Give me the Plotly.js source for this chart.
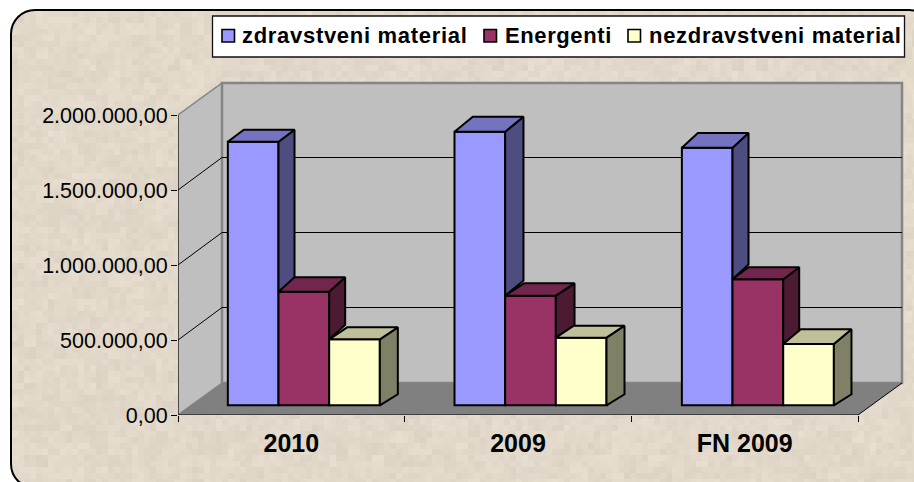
<!DOCTYPE html>
<html>
<head>
<meta charset="utf-8">
<script src="https://cdn.plot.ly/plotly-3.0.1.min.js"></script>
<style>
html,body{margin:0;padding:0;width:914px;height:482px;overflow:hidden;background:#fff}
#panel{position:absolute;left:10px;top:9px;width:920px;height:476px;border:2px solid #000;border-radius:25px;background-color:#E2D9CA}
#chart{position:absolute;left:0;top:0;width:914px;height:482px}
</style>
</head>
<body>
<div id="panel"></div>
<div id="chart"></div>
<script>
// ---- data ----
const categories = ["2010", "2009", "FN 2009"];
const seriesNames = ["zdravstveni material", "Energenti", "nezdravstveni material"];
const zdravstveni = [1757000, 1824000, 1717000];
const energenti = [757000, 731000, 840000];
const nezdravstveni = [440000, 451000, 409000];
const yTicks = [0, 500000, 1000000, 1500000, 2000000];

// ---- styles ----
const frontColors = ["#9999FF", "#993366", "#FFFFCC"];
const topColors = ["#7373BF", "#73264D", "#BFBF99"];
const sideColors = ["#4D4D80", "#4D1A33", "#808066"];
const values = [zdravstveni, energenti, nezdravstveni];

// ---- paper texture (fixed pattern, decorative only) ----
(function () {
  const c = document.createElement("canvas");
  c.width = 924; c.height = 480;
  const g = c.getContext("2d");
  const h = (a, b) => { const s = Math.sin(a * 127.1 + b * 311.7) * 43758.5453; return s - Math.floor(s); };
  for (let y = 0; y < 80; y++) for (let x = 0; x < 154; x++) {
    const n = (h(x, y) - 0.5) * 8 + (h(x >> 1, y >> 1) - 0.5) * 6;
    g.fillStyle = `rgb(${226 + n | 0},${217 + n | 0},${202 + n | 0})`;
    g.fillRect(x * 6, y * 6, 6, 6);
  }
  document.getElementById("panel").style.backgroundImage = `url(${c.toDataURL()})`;
})();

// ---- geometry of the pseudo 3D box (screen pixels) ----
const W = 914, H = 482;
const frontLeft = 178, frontRight = 858, frontBottom = 415, frontTop = 115;
const wallDX = 44, wallDY = 32, pad = 3;
const pxPerCat = (frontRight - frontLeft) / categories.length;
const pxPerVal = (frontBottom - frontTop) / 2000000;
const plotL = frontLeft, plotR = frontRight + wallDX + pad, plotB = frontBottom, plotT = frontBottom - 300 - wallDY - pad;
const xMin = -0.5, xMax = xMin + (plotR - plotL) / pxPerCat;
const yMax = (plotB - plotT) / pxPerVal;
const ddx = px => px / pxPerCat, ddy = px => px / pxPerVal;
const xLast = categories.length - 0.5;
const paperX = px => (px - plotL) / (plotR - plotL);
const paperY = py => (plotB - py) / (plotB - plotT);

// bar placement (px offsets as drawn in the original's oblique view)
const groupShiftPx = [12.5, 12.5, 13.2], groupWidth = 152 / pxPerCat;
const barBase = ddy(9.7), barW = groupWidth / 3;
const depthXPx = [[16, 18.3, 16], [16, 18.7, 16], [18, 18, 17.6]];
const depthYPx = [[12, 15, 14.7], [14.4, 12.3, 12], [12, 12, 14.7]];
const floorDepthY = ddy(11);

const polyPath = pts => "M" + pts.map(p => p[0] + "," + p[1]).join("L") + "Z";
const wallGray = "#BFBFBF", wallEdge = "#858585";
const shapes = [];
// side wall
shapes.push({type: "path", layer: "below", xref: "x", yref: "y",
  path: polyPath([[xMin, 0], [xMin, 2000000], [xMin + ddx(wallDX), 2000000 + ddy(wallDY)], [xMin + ddx(wallDX), ddy(wallDY)]]),
  fillcolor: wallGray, line: {color: wallEdge, width: 1.5}});
// back wall
shapes.push({type: "path", layer: "below", xref: "x", yref: "y",
  path: polyPath([[xMin + ddx(wallDX), ddy(wallDY)], [xMin + ddx(wallDX), 2000000 + ddy(wallDY)], [xLast + ddx(wallDX), 2000000 + ddy(wallDY)], [xLast + ddx(wallDX), ddy(wallDY)]]),
  fillcolor: wallGray, line: {color: wallEdge, width: 2.5}});
// floor
shapes.push({type: "path", layer: "below", xref: "x", yref: "y",
  path: polyPath([[xMin, 0], [xLast, 0], [xLast + ddx(wallDX), ddy(wallDY)], [xMin + ddx(wallDX), ddy(wallDY)]]),
  fillcolor: "#808080", line: {width: 0}});
// floor right edge
shapes.push({type: "line", layer: "below", xref: "x", yref: "y", x0: xLast, y0: 0, x1: xLast + ddx(wallDX), y1: ddy(wallDY), line: {color: "#000", width: 1}});
// gridlines (half pixel lift keeps them crisp)
const gridDY = wallDY + 0.5;
yTicks.slice(1, -1).forEach(v => {
  shapes.push({type: "line", layer: "below", xref: "x", yref: "y", x0: xMin, y0: v, x1: xMin + ddx(wallDX), y1: v + ddy(gridDY), line: {color: "#000", width: 1}});
  shapes.push({type: "line", layer: "below", xref: "x", yref: "y", x0: xMin + ddx(wallDX), y0: v + ddy(gridDY), x1: xLast + ddx(wallDX), y1: v + ddy(gridDY), line: {color: "#000", width: 1}});
});

// legend box and swatches
const legendSwatchX = [222, 484, 628], legendTextX = [240, 503, 647], legendSpacing = [0.7, 0.6, 0.7];
shapes.push({type: "rect", xref: "paper", yref: "paper", x0: paperX(212.5), x1: paperX(904.5), y0: paperY(16), y1: paperY(57), fillcolor: "#fff", line: {color: "#111", width: 1.3}});
const annotations = [];
seriesNames.forEach((name, i) => {
  shapes.push({type: "rect", xref: "paper", yref: "paper", x0: paperX(legendSwatchX[i]), x1: paperX(legendSwatchX[i] + 12.5), y0: paperY(29.5), y1: paperY(42), fillcolor: frontColors[i], line: {color: "#000", width: 1.6}});
  annotations.push({xref: "paper", yref: "paper", x: paperX(legendTextX[i]), y: paperY(35), xanchor: "left", yanchor: "middle", showarrow: false,
    text: `<span style="letter-spacing:${legendSpacing[i]}px">${name}</span>`,
    font: {family: "Liberation Sans", size: 22, color: "#000", weight: 700}});
});

// ---- traces ----
const traces = [];
const xBars = categories.map((_, i) => i + ddx(groupShiftPx[i]));
seriesNames.forEach((name, s) => {
  traces.push({type: "bar", name, x: xBars, y: values[s], base: categories.map(() => barBase),
    marker: {color: frontColors[s], line: {color: "#000", width: 2}}, showlegend: false});
});
categories.forEach((_, c) => {
  seriesNames.forEach((name, s) => {
    const left = xBars[c] - groupWidth / 2 + barW * s, right = left + barW;
    const top = values[s][c] + barBase;
    const depthX = ddx(depthXPx[s][c]), depthY = ddy(depthYPx[s][c]);
    const last = s === seriesNames.length - 1;
    const lower = last ? barBase : values[s + 1][c] + barBase;
    const lowerDepth = last ? floorDepthY : depthY;
    const sx = [right, right + depthX, right + depthX, right, right];
    const sy = [top, top + depthY, lower + lowerDepth, lower, top];
    traces.push({type: "scatter", mode: "lines", x: sx, y: sy, fill: "toself", fillcolor: sideColors[s], line: {color: "#000", width: 2}, showlegend: false, hoverinfo: "skip"});
    const tx = [left, left + depthX, right + depthX, right, left];
    const ty = [top, top + depthY, top + depthY, top, top];
    traces.push({type: "scatter", mode: "lines", x: tx, y: ty, fill: "toself", fillcolor: topColors[s], line: {color: "#000", width: 2}, showlegend: false, hoverinfo: "skip"});
  });
});
// front axis lines
traces.push({type: "scatter", mode: "lines", x: [xMin, xMin], y: [0, 2000000], line: {color: "#000", width: 1}, cliponaxis: false, showlegend: false, hoverinfo: "skip"});
traces.push({type: "scatter", mode: "lines", x: [xMin, xLast], y: [0, 0], line: {color: "#000", width: 1}, cliponaxis: false, showlegend: false, hoverinfo: "skip"});

const layout = {
  width: W, height: H,
  margin: {l: plotL, r: W - plotR, t: plotT, b: H - plotB, pad: 0},
  paper_bgcolor: "rgba(0,0,0,0)", plot_bgcolor: "rgba(0,0,0,0)",
  separators: ",.",
  showlegend: false,
  barmode: "group", bargap: 1 - groupWidth, bargroupgap: 0,
  hovermode: false,
  xaxis: {type: "linear", range: [xMin, xMax], tickmode: "array", tickvals: categories.map((_, i) => i), ticktext: categories,
    ticks: "", showgrid: false, zeroline: false, showline: false, ticklabelstandoff: 11,
    tickfont: {family: "Liberation Sans", size: 25, color: "#000", weight: 700},
    minor: {tickmode: "array", tickvals: categories.map((_, i) => i - 0.5).concat([xLast]), ticks: "outside", ticklen: 6, tickwidth: 1, tickcolor: "#000", showgrid: false}},
  yaxis: {type: "linear", range: [0, yMax], tickmode: "array", tickvals: yTicks, tickformat: ",.2f",
    ticks: "outside", ticklen: 6, tickwidth: 1, tickcolor: "#000", showgrid: false, zeroline: false, showline: false, ticklabelstandoff: -1,
    tickfont: {family: "Liberation Sans", size: 21.5, color: "#000"}},
  shapes, annotations
};
Plotly.newPlot("chart", traces, layout, {displayModeBar: false, staticPlot: true});
</script>
</body>
</html>
